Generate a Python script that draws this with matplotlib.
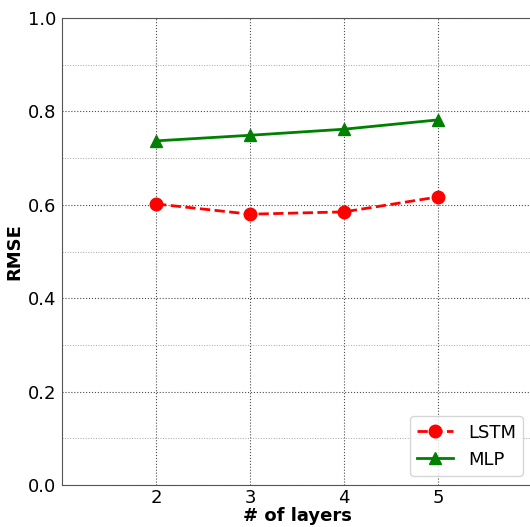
import matplotlib
matplotlib.use('Agg')
import matplotlib.pyplot as plt
from matplotlib.ticker import MultipleLocator

layers = [2, 3, 4, 5]
lstm_rmse = [0.602, 0.580, 0.585, 0.617]
mlp_rmse = [0.737, 0.749, 0.762, 0.782]

fig = plt.figure(figsize=(5.3, 5.27), dpi=100)
ax = fig.add_axes([0.117, 0.0797, 0.887, 0.886])

ax.plot(layers, lstm_rmse, 'r--', marker='o', markersize=9, linewidth=2, label='LSTM')
ax.plot(layers, mlp_rmse, 'g-', marker='^', markersize=9, linewidth=2, label='MLP')

ax.set_xlim(1, 6)
ax.set_ylim(0, 1)
ax.set_xticks(layers)
ax.yaxis.set_minor_locator(MultipleLocator(0.1))
ax.grid(which='major', color='black', linestyle=':', linewidth=0.8, alpha=0.7)
ax.grid(which='minor', axis='y', color='gray', linestyle=':', linewidth=0.7, alpha=0.7)
ax.tick_params(which='both', length=0, pad=4, labelsize=13)
ax.tick_params(axis='x', pad=3)
for s in ax.spines.values():
    s.set_color('#555555')

ax.set_xlabel('# of layers', fontsize=13, fontweight='bold', labelpad=0)
ax.set_ylabel('RMSE', fontsize=13, fontweight='bold', labelpad=3)
ax.legend(loc='lower right', fontsize=13)

fig.savefig('out.png', dpi=100)
